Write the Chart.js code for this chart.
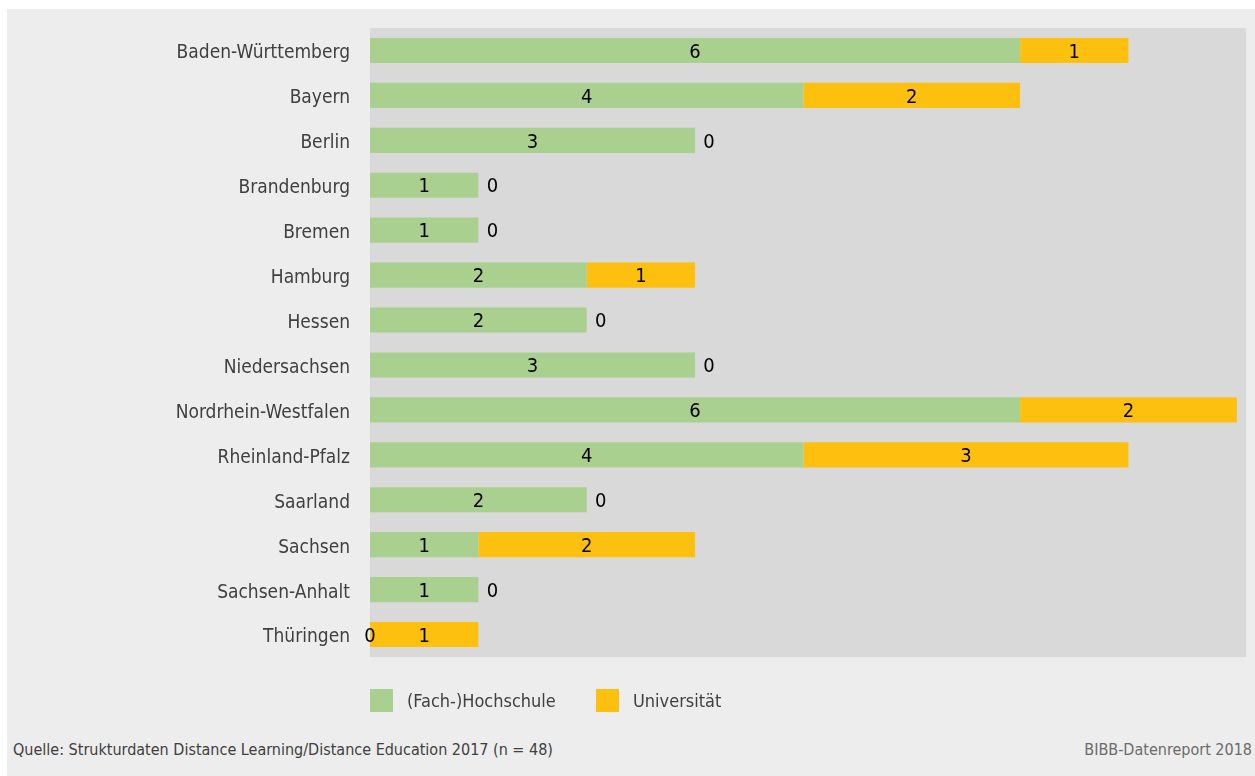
<!DOCTYPE html>
<html>
<head>
<meta charset="utf-8">
<script src="https://cdn.jsdelivr.net/npm/chart.js@4"></script>
<style>
  body { margin: 0; background: #fff; font-family: 'DejaVu Sans Condensed', sans-serif; }
  #frame { position: absolute; left: 7px; top: 9px; width: 1248px; height: 767px; background: #ededed; }
  #wrap { position: absolute; left: 0; top: 0; width: 1248px; height: 700px; }
  #legend { position: absolute; left: 363px; top: 680px; height: 23px; font-size: 18px; color: #404040; }
  #legend span.item { position: absolute; top: 0; white-space: nowrap; }
  #legend span.box { position: absolute; top: 0; width: 23px; height: 23px; }
  #legend span.txt { position: absolute; top: 0; left: 37px; line-height: 23px; }
  #source { position: absolute; left: 6px; top: 731px; font-size: 16px; color: #404040; }
  #brand { position: absolute; right: 3px; top: 731px; font-size: 16px; color: #6b6b6b; }
</style>
</head>
<body>
<div id="frame">
  <div id="wrap"><canvas id="chart"></canvas></div>
  <div id="legend"></div>
  <div id="source">Quelle: Strukturdaten Distance Learning/Distance Education 2017 (n = 48)</div>
  <div id="brand">BIBB-Datenreport 2018</div>
</div>
<script>
var laender = ['Baden-Württemberg', 'Bayern', 'Berlin', 'Brandenburg', 'Bremen', 'Hamburg', 'Hessen',
  'Niedersachsen', 'Nordrhein-Westfalen', 'Rheinland-Pfalz', 'Saarland', 'Sachsen', 'Sachsen-Anhalt', 'Thüringen'];
var fachhochschule = [6, 4, 3, 1, 1, 2, 2, 3, 6, 4, 2, 1, 1, 0];
var universitaet = [1, 2, 0, 0, 0, 1, 0, 0, 2, 3, 0, 2, 0, 1];
var seriesNames = ['(Fach-)Hochschule', 'Universität'];
var seriesColors = ['#a9d08e', '#fdc00f'];

var fontFamily = "'DejaVu Sans Condensed', sans-serif";

// grey plot area behind the bars
var plotBg = {
  id: 'plotBg',
  beforeDraw: function (chart) {
    var a = chart.chartArea, ctx = chart.ctx;
    ctx.save();
    ctx.fillStyle = '#d9d9d9';
    ctx.fillRect(a.left, a.top, a.right - a.left, a.bottom - a.top);
    ctx.restore();
  }
};

// value labels in the middle of each segment, zeros next to the bar end
var barLabels = {
  id: 'barLabels',
  afterDatasetsDraw: function (chart) {
    var ctx = chart.ctx;
    ctx.save();
    ctx.font = '20px ' + fontFamily;
    ctx.fillStyle = '#000';
    ctx.textAlign = 'center';
    ctx.textBaseline = 'middle';
    chart.data.datasets.forEach(function (ds, i) {
      chart.getDatasetMeta(i).data.forEach(function (bar, j) {
        var v = ds.data[j];
        var x = (bar.x + bar.base) / 2;
        if (v === 0 && i === 1) x = bar.x + 14;
        ctx.fillText(String(v), x, bar.y + 2);
      });
    });
    ctx.restore();
  }
};

var ctx = document.getElementById('chart');
var chart = new Chart(ctx, {
  type: 'bar',
  data: {
    labels: laender,
    datasets: [{
      label: seriesNames[0],
      data: fachhochschule,
      backgroundColor: seriesColors[0]
    }, {
      label: seriesNames[1],
      data: universitaet,
      backgroundColor: seriesColors[1]
    }]
  },
  options: {
    indexAxis: 'y',
    responsive: true,
    maintainAspectRatio: false,
    animation: false,
    layout: { padding: { top: 19, bottom: 52, right: 9, left: 0 } },
    datasets: { bar: { categoryPercentage: 1, barPercentage: 0.56 } },
    plugins: { legend: { display: false }, tooltip: { enabled: false } },
    scales: {
      x: { stacked: true, min: 0, max: 8.085, display: false },
      y: {
        stacked: true,
        border: { display: false },
        grid: { display: false, drawTicks: false },
        ticks: { color: '#404040', padding: 20, labelOffset: 3, font: { family: fontFamily, size: 19 } },
        afterFit: function (scale) {
          scale.width = 363;
          scale.paddingTop = 0;
          scale.paddingBottom = 0;
        }
      }
    }
  },
  plugins: [plotBg, barLabels]
});

// legend built from the series
var legend = document.getElementById('legend');
var offsets = [0, 226];
seriesNames.forEach(function (name, i) {
  var item = document.createElement('span');
  item.className = 'item';
  item.style.left = offsets[i] + 'px';
  item.innerHTML = '<span class="box" style="background:' + seriesColors[i] + '"></span><span class="txt">' + name + '</span>';
  legend.appendChild(item);
});
</script>
</body>
</html>
